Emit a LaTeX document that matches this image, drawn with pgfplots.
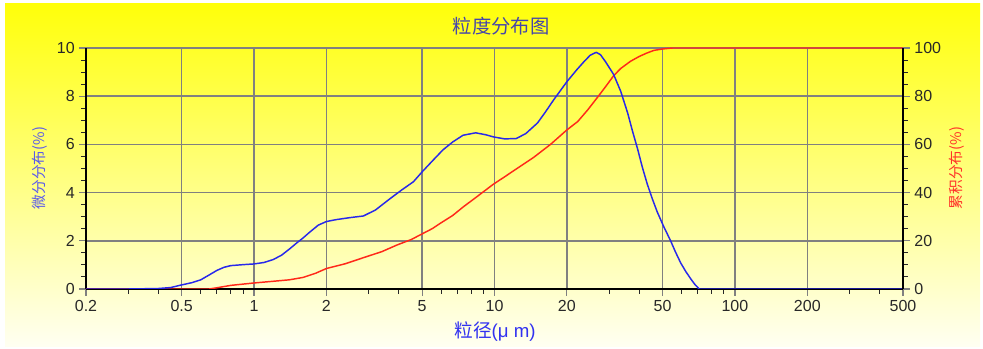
\documentclass[border=0pt]{standalone}
\usepackage{pgfplots}
\usepackage{pgfplotstable}
\pgfplotsset{compat=1.18}
\usepackage{fontspec}
\setmainfont{Liberation Sans}
\newfontfamily\cjk{Noto Sans CJK SC}
\definecolor{bluel}{RGB}{40,40,235}
\definecolor{redl}{RGB}{255,40,25}
\definecolor{gridc}{RGB}{128,128,128}
\definecolor{tickc}{RGB}{40,40,40}
\definecolor{titlec}{RGB}{70,70,170}
\definecolor{xlabc}{RGB}{50,50,240}
\definecolor{ylabc}{RGB}{90,90,235}
\definecolor{rlabc}{RGB}{255,50,40}
\pgfplotstableread{
d v
0.2 0
0.3 0
0.4 0.02
0.45 0.06
0.5 0.17
0.55 0.26
0.6 0.38
0.65 0.58
0.7 0.77
0.75 0.9
0.8 0.97
0.9 1.01
1.0 1.04
1.1 1.1
1.2 1.22
1.3 1.4
1.4 1.65
1.5 1.9
1.6 2.12
1.7 2.35
1.85 2.65
2.0 2.8
2.2 2.88
2.5 2.96
2.85 3.03
3.2 3.28
3.68 3.75
4.1 4.1
4.6 4.45
5.0 4.86
5.5 5.3
6.1 5.77
6.7 6.1
7.4 6.38
8.35 6.48
9.2 6.4
9.9 6.31
11 6.23
12.3 6.24
13.5 6.45
15.1 6.89
16.3 7.35
17.6 7.84
20 8.6
22 9.1
23.5 9.42
25.0 9.7
26.5 9.82
27.6 9.72
29 9.42
31.3 8.9
33.5 8.2
35.8 7.3
37.5 6.55
39.4 5.8
41.2 5.05
43.2 4.35
45.3 3.75
47.5 3.2
50.5 2.6
54 2.0
56.5 1.55
59.5 1.08
62.5 0.72
65.5 0.42
68 0.2
71 0.0
500 0
}\bluedata
\pgfplotstableread{
d c
0.2 0
0.65 0
0.7 0.5
0.8 1.5
1.0 2.5
1.2 3.2
1.4 3.8
1.6 4.8
1.8 6.5
2.0 8.5
2.4 10.5
2.85 13
3.4 15.5
3.94 18.3
4.5 20.5
4.92 22.5
5.5 25
5.96 27.3
6.7 30.5
7.4 34
8.5 38.5
9.9 43.5
11 46.5
12.4 50
14.5 54.5
17.1 60
20 66
22.2 69.5
24.5 74.5
26.8 79.5
29 84
31.3 88.5
33.5 91.5
36.8 94.5
40 96.5
43 97.9
46 99
50 99.6
55 100
500 100
}\reddata
\begin{document}
\begin{tikzpicture}[x=1pt,y=1pt]
\fill[white] (0,0) rectangle (737.25,261.75);
\path[use as bounding box] (0,0) rectangle (737.25,261.75);
\shade[top color={rgb,255:red,255;green,255;blue,10}, middle color={rgb,255:red,255;green,255;blue,140}, bottom color={rgb,255:red,255;green,255;blue,242}] (3.75,1.5) rectangle (735,258.75);
\begin{axis}[
 at={(64.5pt,45pt)}, anchor=south west,
 width=612.75pt, height=180.75pt, scale only axis,
 xmode=log, xmin=0.2, xmax=500, ymin=0, ymax=10,
 xtick={0.2,0.5,1,2,5,10,20,50,100,200,500},
 xticklabels={0.2,0.5,1,2,5,10,20,50,100,200,500},
 minor xtick={0.3,0.4,0.6,0.7,0.8,0.9,3,4,6,7,8,9,30,40,60,70,80,90,300,400},
 ytick={0,2,4,6,8,10}, minor y tick num=3,
 axis x line*=bottom, axis y line*=left,
 axis line style={line width=2pt, black, -},
 tick align=outside,
 major tick length=5pt, minor tick length=3.5pt,
 major tick style={gridc, line width=0.9pt},
 minor tick style={tickc, line width=0.7pt},
 xmajorgrids, ymajorgrids,
 major grid style={gridc, line width=1.1pt},
 tick label style={font=\fontsize{12}{12}\selectfont, text=tickc},
 /pgf/number format/assume math mode=true,
]
\addplot[redl, line width=1.1pt, line join=round] table[x=d, y expr=\thisrow{c}/10] {\reddata};
\addplot[bluel, line width=1.1pt, line join=round] table[x=d, y=v] {\bluedata};
\end{axis}
\begin{axis}[
 at={(64.5pt,45pt)}, anchor=south west,
 width=612.75pt, height=180.75pt, scale only axis,
 xmode=log, xmin=0.2, xmax=500, ymin=0, ymax=100,
 axis x line=none, axis y line*=right,
 axis line style={line width=2pt, black, -},
 ytick={0,20,40,60,80,100}, minor y tick num=3,
 tick align=outside,
 major tick length=5pt, minor tick length=3.5pt,
 major tick style={gridc, line width=0.9pt},
 minor tick style={tickc, line width=0.7pt},
 tick label style={font=\fontsize{12}{12}\selectfont, text=tickc},
 /pgf/number format/assume math mode=true,
]
\end{axis}
\node[text=titlec, font=\cjk\fontsize{14.5}{14.5}\selectfont] at (375.75,242.25) {粒度分布图};
\node[text=xlabc, font=\fontsize{14}{14}\selectfont] at (371.25,12.75) {{\cjk 粒径}(μ m)};
\node[text=ylabc, rotate=90, font=\cjk\fontsize{11}{11}\selectfont] at (30,135.75) {微分分布(\%)};
\node[text=rlabc, rotate=90, font=\cjk\fontsize{11}{11}\selectfont] at (717.75,135.75) {累积分布(\%)};
\end{tikzpicture}
\end{document}
